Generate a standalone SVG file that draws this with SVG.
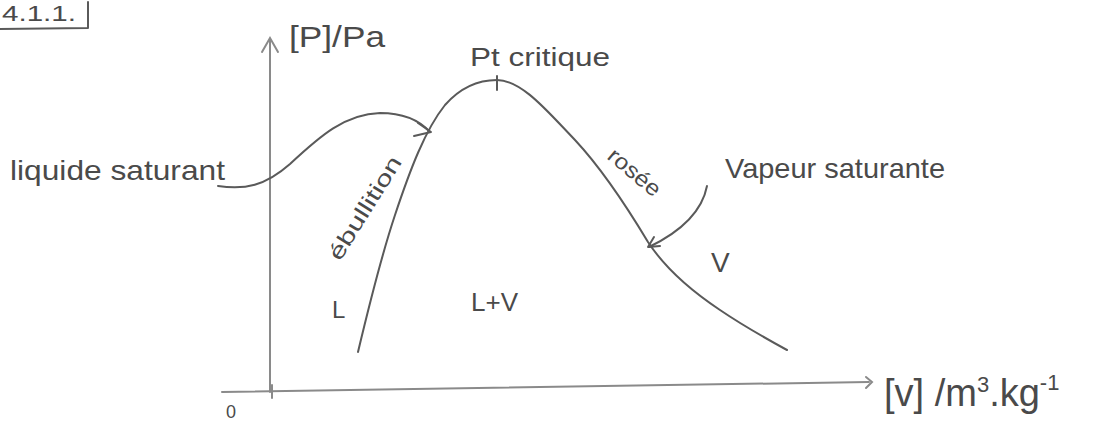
<svg xmlns="http://www.w3.org/2000/svg" width="1111" height="428" viewBox="0 0 1111 428">
<style>
.ln{fill:none;stroke:#5a5a5a;stroke-width:2;stroke-linecap:round;stroke-linejoin:round}
.ax{fill:none;stroke:#8a8a8a;stroke-width:2;stroke-linecap:round}
.t{font-family:"Liberation Sans","DejaVu Sans",sans-serif;fill:#4a4a4a}
</style>
<rect width="1111" height="428" fill="#ffffff"/>
<g id="title">
<path class="ln" d="M0 29 L88 28 L88 2" stroke-width="1.6"/>
<text class="t" x="2" y="21" font-size="22" textLength="74" lengthAdjust="spacingAndGlyphs">4.1.1.</text>
</g>
<g id="connectors">
<path class="ax" d="M270 392 L270 40"/>
<path class="ax" d="M262 52 L270 38 L278 52"/>
<path class="ax" d="M222 392 L869 382"/>
<path class="ax" d="M866 377 L872 382 L866 388"/>
<path class="ax" d="M272 385 L272 398" stroke-width="1.2"/>
<path class="ln" d="M218 186 C245 190 265 186 290 164 C320 136 345 114 380 113 C405 113 420 121 430 132"/>
<path class="ln" d="M418 123 L431 132 L414 136"/>
<path class="ln" d="M707 186 C702 212 680 232 649 247"/>
<path class="ln" d="M654 237 L648 247 L660 246" stroke-width="2.4"/>
</g>
<g id="curve">
<path class="ln" d="M358 352 C368 310 380 260 395 215 C410 170 425 130 445 105 C460 88 478 80 497 80 C522 80 548 112 575 140 C603 170 627 207 648 242 C665 268 690 290 720 310 C745 327 765 338 787 350"/>
<path class="ln" d="M497 76 L497 90" stroke-width="1.6"/>
</g>
<g id="axis-p"><text class="t" x="289" y="47" font-size="30" textLength="96" lengthAdjust="spacingAndGlyphs">[P]/Pa</text></g>
<g id="axis-v"><text class="t" x="884" y="406" font-size="38">[v] /m<tspan font-size="22" dy="-14">3</tspan><tspan dy="14">.kg</tspan><tspan font-size="22" dy="-16">-1</tspan></text></g>
<g id="origin"><text class="t" x="226" y="418" font-size="18">0</text></g>
<g id="pt-critique"><text class="t" x="470" y="66" font-size="26" textLength="140" lengthAdjust="spacingAndGlyphs">Pt critique</text></g>
<g id="liquide-saturant"><text class="t" x="10" y="180" font-size="28" textLength="215" lengthAdjust="spacingAndGlyphs">liquide saturant</text></g>
<g id="vapeur-saturante"><text class="t" x="725" y="178" font-size="28" textLength="220" lengthAdjust="spacingAndGlyphs">Vapeur saturante</text></g>
<g id="ebullition"><text class="t" font-size="22" transform="translate(340 262) rotate(-58)" textLength="118" lengthAdjust="spacingAndGlyphs">ébullition</text></g>
<g id="rosee"><text class="t" font-size="22" transform="translate(606 158) rotate(40)" textLength="62" lengthAdjust="spacingAndGlyphs">rosée</text></g>
<g id="L"><text class="t" x="332" y="318" font-size="24">L</text></g>
<g id="LV"><text class="t" x="471" y="311" font-size="26">L+V</text></g>
<g id="V"><text class="t" x="711" y="272" font-size="28">V</text></g>
</svg>
